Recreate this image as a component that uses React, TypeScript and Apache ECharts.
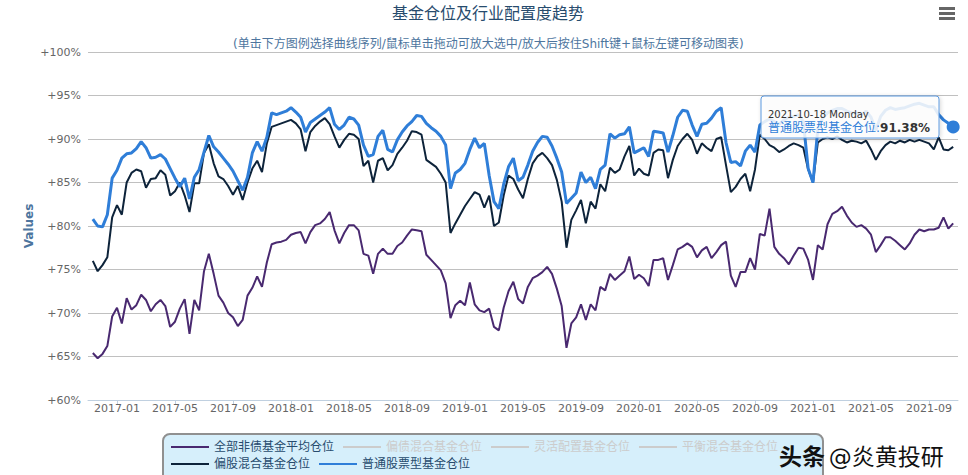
import React, { useEffect, useRef } from 'react';
import * as echarts from 'echarts';

const FONT = '"DejaVu Sans", "Noto Sans CJK SC", sans-serif';

// Category dates: 1st / 11th / 21st of every month, Nov 2016 .. Oct 2021
const START_YEAR = 2016;
const START_MONTH = 11;
const MONTH_COUNT = 60;
const DAYS = ['01', '11', '21'];
const LAST_MONTH_DAYS = ['01', '11', '18', '28'];

const SERIES_NAMES = [
  '全部非债基金平均仓位',
  '偏债混合基金仓位',
  '灵活配置基金仓位',
  '平衡混合基金仓位',
  '偏股混合基金仓位',
  '普通股票型基金仓位',
];
const SERIES_COLORS = ['#492970', '#8bbc21', '#910000', '#1aadce', '#0d233a', '#2f7ed8'];
const HIDDEN = ['偏债混合基金仓位', '灵活配置基金仓位', '平衡混合基金仓位'];

const Y_MIN = 60;
const Y_MAX = 100;
const Y_STEP = 5;
const TICK_MONTHS = ['01', '05', '09'];

// 全部非债基金平均仓位
const allNonBond = [
  null, 65.4, 64.8,
  65.3, 66.2, 69.6,
  70.6, 68.8, 71.7,
  70.4, 70.9, 72.1,
  71.5, 70.2, 71.0,
  71.5, 70.8, 68.4,
  69.0, 70.5, 71.6,
  67.6, 71.5, 70.3,
  74.8, 76.8, 74.5,
  72.0, 71.2, 70.0,
  69.5, 68.5, 69.2,
  72.0, 72.9, 74.2,
  73.0, 75.8, 77.9,
  78.1, 78.2, 78.4,
  79.0, 79.2, 79.3,
  78.0, 79.3, 80.1,
  80.3, 80.8, 81.6,
  79.5, 78.0, 79.2,
  80.1, 80.1, 79.5,
  76.8, 76.6, 74.5,
  76.8, 77.4, 76.8,
  76.8, 77.7, 78.1,
  78.9, 79.6, 79.5,
  79.4, 76.7, 76.1,
  75.5, 74.9, 73.4,
  69.4, 70.9, 71.4,
  70.9, 73.5, 71.0,
  70.3, 70.1, 70.5,
  68.4, 68.0, 70.6,
  72.5, 73.6, 71.6,
  71.1, 73.0, 74.0,
  74.3, 74.7, 75.3,
  74.5, 72.8, 70.8,
  66.0, 68.8, 69.5,
  71.0, 69.2, 71.0,
  70.3, 73.0, 72.6,
  74.5, 73.8, 74.3,
  74.8, 76.5, 73.9,
  74.4, 74.0, 73.1,
  76.1, 76.1, 76.3,
  73.8, 75.5, 77.3,
  77.6, 78.0, 77.6,
  76.4, 77.2, 77.6,
  76.3, 77.0, 77.8,
  78.2, 74.3, 73.0,
  74.7, 74.7, 76.3,
  75.0, 79.1, 78.9,
  82.0, 77.6, 76.8,
  76.3, 75.6, 76.6,
  77.5, 77.4, 76.1,
  73.8, 77.8, 77.3,
  80.2, 81.4, 81.7,
  82.2, 81.2, 80.4,
  79.9, 80.1, 79.7,
  79.0, 77.0, 77.8,
  78.7, 78.7, 78.3,
  77.8, 77.3, 78.0,
  79.0, 79.6, 79.4,
  79.6, 79.6, 79.8,
  81.0, 79.7, 80.3, null,
];

// 偏股混合基金仓位
const mixedEquity = [
  null, 76.0, 74.8,
  75.5, 76.4, 81.0,
  82.4, 81.3, 85.0,
  86.1, 86.5, 86.3,
  84.4, 85.4, 85.5,
  86.4, 85.9, 83.5,
  84.0, 85.0, 83.5,
  81.6, 84.9, 84.9,
  88.4, 89.4, 87.2,
  85.7, 85.4, 84.6,
  83.6, 84.6, 83.0,
  85.0, 86.6, 87.5,
  86.2, 89.5, 91.4,
  91.6, 91.8, 92.0,
  92.2, 91.8, 91.1,
  88.6, 90.8, 91.5,
  92.0, 92.4, 91.7,
  90.3, 89.0, 89.9,
  90.6, 90.5, 90.0,
  86.9, 87.5, 85.0,
  87.5, 87.8, 86.4,
  87.0, 88.3, 89.0,
  89.8, 90.9, 90.8,
  90.5, 87.6, 87.2,
  86.8, 86.0, 85.0,
  79.2, 80.3, 81.3,
  82.3, 83.1, 83.9,
  83.6, 82.1, 83.5,
  80.0, 80.4, 83.5,
  85.8, 85.4, 84.2,
  83.2, 85.4, 87.2,
  88.0, 88.4, 87.8,
  87.0, 85.3, 82.8,
  77.5, 80.7, 81.8,
  83.0, 80.3, 82.8,
  82.0, 84.8, 84.0,
  86.7, 86.1, 86.5,
  88.0, 89.2, 85.8,
  86.6, 86.0, 85.8,
  88.4, 88.8, 88.7,
  85.5, 87.6, 89.2,
  90.0, 90.6, 89.9,
  88.3, 89.5, 89.0,
  88.6, 90.0, 90.2,
  87.0, 83.9, 84.5,
  85.4, 86.0, 84.0,
  86.5, 90.5, 90.0,
  89.3, 89.0, 88.5,
  88.8, 89.2, 89.5,
  89.3, 89.0, 86.5,
  85.0, 89.6, 90.0,
  90.2, 90.0, 90.3,
  89.9, 89.6, 89.8,
  89.7, 89.5, 89.8,
  88.8, 87.6, 88.6,
  89.3, 89.7, 89.5,
  89.8, 89.6, 89.9,
  89.7, 89.9, 89.7,
  89.5, 88.8, 90.2,
  88.8, 88.7, 89.1, null,
];

// 普通股票型基金仓位
const stockFund = [
  null, 80.8, 80.0,
  79.9, 81.3, 85.5,
  86.4, 87.8, 88.3,
  88.4, 88.9, 89.7,
  89.0, 87.8, 87.9,
  88.2, 87.7, 86.6,
  85.5, 84.5, 85.5,
  83.1, 85.6, 86.5,
  88.5, 90.4, 89.1,
  88.5, 87.8, 87.1,
  86.3, 85.2, 84.1,
  85.6, 88.4, 89.7,
  88.6, 90.2, 93.0,
  92.8, 93.0, 93.2,
  93.6, 93.1, 92.5,
  90.8, 91.9, 92.3,
  92.7, 93.1, 93.6,
  91.7, 91.1, 91.6,
  92.5, 92.3, 91.6,
  89.3, 88.0, 88.2,
  90.3, 91.0, 88.8,
  88.5, 89.9, 90.8,
  91.5, 92.0, 92.7,
  92.6, 91.8, 91.3,
  90.9, 90.3, 89.3,
  84.3, 86.1, 86.5,
  87.2, 88.8, 90.1,
  89.0, 89.5, 85.8,
  82.8, 82.0, 84.8,
  86.8, 87.8, 85.2,
  85.6, 87.0, 88.6,
  89.6, 90.3, 90.2,
  89.2, 87.8, 86.2,
  82.6, 83.2, 83.8,
  86.2, 85.0, 85.6,
  84.3, 86.5, 87.0,
  90.6, 90.1, 90.5,
  90.6, 91.4, 88.4,
  88.7, 89.0, 88.0,
  90.9, 90.8, 90.7,
  88.5, 90.4, 92.5,
  93.3, 93.2, 91.6,
  90.3, 91.7, 91.8,
  92.4, 93.2, 93.6,
  89.6, 87.3, 87.4,
  86.9, 88.6, 89.3,
  88.5, 91.6, 92.0,
  92.3, 92.0, 91.7,
  92.2, 92.5, 92.6,
  92.8, 92.0, 86.6,
  85.0, 91.2, 92.4,
  93.0, 93.3, 93.5,
  93.5, 93.2, 93.0,
  93.0, 92.8, 93.2,
  92.5, 91.0, 92.6,
  93.3, 93.6, 93.4,
  93.5, 93.6, 93.8,
  94.0, 94.1, 93.9,
  93.7, 93.7, 92.8,
  92.2, 91.8, 91.38, null,
];

const TOOLTIP_WEEKDAY = 'Monday';

function buildCategories(): string[] {
  const out: string[] = [];
  for (let k = 0; k < MONTH_COUNT; k++) {
    const m0 = START_MONTH - 1 + k;
    const y = START_YEAR + Math.floor(m0 / 12);
    const m = String((m0 % 12) + 1).padStart(2, '0');
    const days = k === MONTH_COUNT - 1 ? LAST_MONTH_DAYS : DAYS;
    days.forEach((d) => out.push(`${y}-${m}-${d}`));
  }
  return out;
}

const isTick = (v: string) => v.slice(8) === '01' && TICK_MONTHS.includes(v.slice(5, 7));

export default function App() {
  const ref = useRef<HTMLDivElement>(null);

  useEffect(() => {
    document.body.style.margin = '0';
    if (!ref.current) return;
    const chart = echarts.init(ref.current, undefined, { renderer: 'svg' });
    const categories = buildCategories();
    const dataMap: Record<string, (number | null)[]> = {
      '全部非债基金平均仓位': allNonBond,
      '偏股混合基金仓位': mixedEquity,
      '普通股票型基金仓位': stockFund,
    };
    let lastIdx = stockFund.length - 1;
    while (lastIdx > 0 && stockFund[lastIdx] == null) lastIdx--;
    const lastDate = categories[lastIdx];
    const lastVal = stockFund[lastIdx] as number;

    const selected: Record<string, boolean> = {};
    HIDDEN.forEach((n) => (selected[n] = false));

    const series = SERIES_NAMES.map((name, i) => {
      const isBlue = name === '普通股票型基金仓位';
      const s: any = {
        name,
        type: 'line',
        data: dataMap[name] || [],
        showSymbol: false,
        symbol: 'none',
        lineStyle: { width: isBlue ? 3 : 2, color: SERIES_COLORS[i] },
        itemStyle: { color: SERIES_COLORS[i] },
        emphasis: { disabled: true },
        z: 2,
      };
      if (isBlue) {
        s.markPoint = {
          symbol: 'circle',
          symbolSize: 13,
          silent: true,
          label: { show: false },
          itemStyle: { color: SERIES_COLORS[i] },
          data: [{ coord: [lastDate, lastVal] }],
        };
      }
      return s;
    });

    const legendCommon = {
      orient: 'horizontal',
      icon: 'rect',
      itemWidth: 38,
      itemHeight: 2,
      itemGap: 9,
      padding: 0,
      inactiveColor: '#cccccc',
      textStyle: { color: '#274b6d', fontSize: 12, fontFamily: FONT },
    };

    const option: any = {
      animation: false,
      textStyle: { fontFamily: FONT },
      title: [
        {
          text: '基金仓位及行业配置度趋势',
          left: 392,
          top: 5,
          padding: 0,
          textStyle: { fontSize: 16, fontWeight: 'normal', color: '#274b6d', fontFamily: FONT },
        },
        {
          text: '(单击下方图例选择曲线序列/鼠标单击拖动可放大选中/放大后按住Shift键+鼠标左键可移动图表)',
          left: 233,
          top: 38,
          padding: 0,
          textStyle: { fontSize: 12, fontWeight: 'normal', color: '#4d759e', fontFamily: FONT },
        },
      ],
      grid: { left: 88, right: 10, top: 52, bottom: 75 },
      xAxis: {
        type: 'category',
        data: categories,
        boundaryGap: false,
        axisLine: { lineStyle: { color: '#C0D0E0', width: 1 } },
        axisTick: {
          interval: (_i: number, v: string) => isTick(v),
          length: 5,
          lineStyle: { color: '#C0D0E0' },
        },
        axisLabel: {
          interval: (_i: number, v: string) => isTick(v),
          formatter: (v: string) => v.slice(0, 7),
          color: '#666666',
          fontSize: 11,
          margin: 3,
          fontFamily: FONT,
        },
        splitLine: { show: false },
      },
      yAxis: {
        type: 'value',
        min: Y_MIN,
        max: Y_MAX,
        interval: Y_STEP,
        name: 'Values',
        nameLocation: 'middle',
        nameGap: 53,
        nameMoveOverlap: false,
        nameTextStyle: { color: '#4d759e', fontWeight: 'bold', fontSize: 12, fontFamily: FONT },
        axisLine: { show: false },
        axisTick: { show: false },
        axisLabel: {
          formatter: (v: number) => `+${v}%`,
          color: '#666666',
          fontSize: 11,
          margin: 7,
          fontFamily: FONT,
        },
        splitLine: { lineStyle: { color: '#C0C0C0', width: 1 } },
      },
      legend: [
        { ...legendCommon, data: SERIES_NAMES.slice(0, 4), left: 171, top: 441, selected },
        { ...legendCommon, data: SERIES_NAMES.slice(4), left: 171, top: 458 },
      ],
      series,
      graphic: [
        {
          type: 'rect',
          z: 0,
          silent: true,
          shape: { x: 163, y: 434, width: 660, height: 50, r: 7 },
          style: { fill: '#d6effb', stroke: '#909090', lineWidth: 2 },
        },
        {
          type: 'group',
          z: 100,
          silent: true,
          children: [0, 5, 10].map((dy) => ({
            type: 'rect',
            z: 100,
            shape: { x: 939, y: 7 + dy, width: 16, height: 3 },
            style: { fill: '#666666' },
          })),
        },
        {
          type: 'rect',
          z: 100,
          silent: true,
          shape: { x: 761, y: 96, width: 178, height: 42, r: 3 },
          style: {
            fill: 'rgba(255,255,255,0.85)',
            stroke: '#5c9ae0',
            lineWidth: 1,
            shadowBlur: 4,
            shadowOffsetX: 1,
            shadowOffsetY: 1,
            shadowColor: 'rgba(0,0,0,0.18)',
          },
        },
        {
          type: 'text',
          z: 101,
          silent: true,
          x: 768,
          y: 114,
          style: {
            text: `${lastDate} ${TOOLTIP_WEEKDAY}`,
            fill: '#333333',
            fontSize: 10,
            fontFamily: FONT,
            verticalAlign: 'middle',
          },
        },
        {
          type: 'text',
          z: 101,
          silent: true,
          x: 768,
          y: 128,
          style: {
            text: `{a|普通股票型基金仓位:}{b|${lastVal.toFixed(2)}%}`,
            verticalAlign: 'middle',
            fontFamily: FONT,
            rich: {
              a: { fill: '#2f7ed8', fontSize: 12, fontFamily: FONT },
              b: { fill: '#333333', fontSize: 12, fontWeight: 'bold', fontFamily: FONT },
            },
          },
        },
        {
          type: 'text',
          z: 110,
          silent: true,
          x: 779,
          y: 457,
          style: {
            text: '{h|头条} {n|@炎黄投研}',
            verticalAlign: 'middle',
            fontFamily: FONT,
            rich: {
              h: { fill: '#111111', fontSize: 23, fontWeight: 'bold', fontFamily: FONT },
              n: { fill: '#111111', fontSize: 23, fontFamily: FONT },
            },
          },
        },
      ],
    };

    chart.setOption(option);
    return () => chart.dispose();
  }, []);

  return <div ref={ref} style={{ width: 968, height: 475 }} />;
}
